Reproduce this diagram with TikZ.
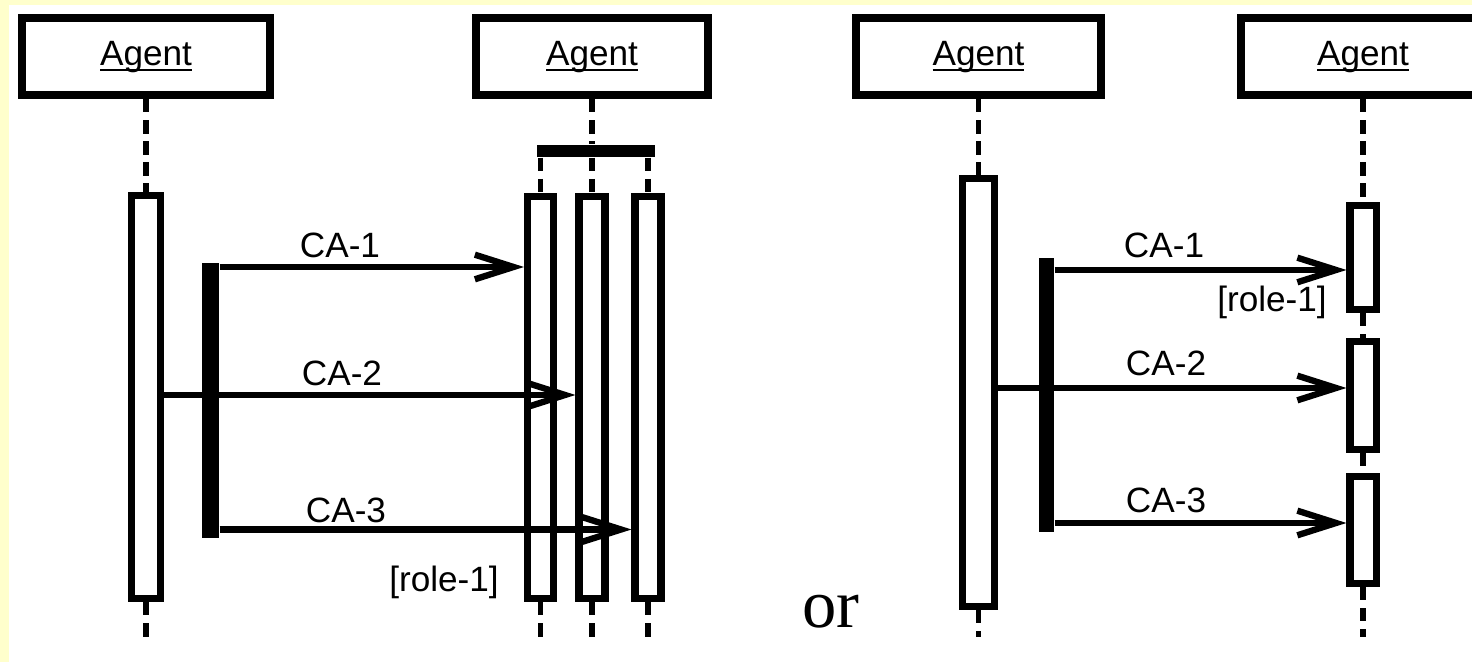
\documentclass[tikz,border=0pt]{standalone}
\usepackage{fontspec}
\setmainfont{Liberation Sans}
\newfontfamily\orfont{Liberation Serif}
\usetikzlibrary{arrows.meta}
\tikzset{agent/.style = {draw, line width = 2.3pt, fill = white, minimum height = 0.77cm,
                         inner sep = 0, font = \fontsize{10}{12}\selectfont}}
\tikzset{actbox/.style = {draw, line width = 2pt, fill = white, minimum width = 0.26cm, inner sep = 0}}
\tikzset{bar/.style = {fill, inner sep = 0}}
\tikzset{life/.style = {line width = 1.6pt, dash pattern = on 3.8pt off 2.2pt}}
\tikzset{msg/.style = {line width = 1.8pt, -{Straight Barb[length = 11pt, width = 7pt]}}}
\tikzset{lbl/.style = {inner sep = 0, font = \fontsize{10}{12}\selectfont}}
\newcommand{\agentname}{\underline{\raisebox{0pt}[\height][0pt]{Agent}}}
\definecolor{bgyellow}{rgb}{1, 1, 0.8}

\begin{document}
\begin{tikzpicture}[x = 0.01cm, y = -0.01cm]
      \clip (0, 0) rectangle (1472, 662);
      \fill [white] (0, 0) rectangle (1472, 662);
      \fill [bgyellow] (0, 0) rectangle (1472, 5);
      \fill [bgyellow] (0, 0) rectangle (9, 662);
      \coordinate (end) at (0, 637);

      \node [agent, minimum width = 2.48cm] (ag1) at (146, 56.5) {\agentname};
      \node [agent, minimum width = 2.32cm] (ag2) at (592, 56.5) {\agentname};
      \node [agent, minimum width = 2.44cm] (ag3) at (978.5, 56.5) {\agentname};
      \node [agent, minimum width = 2.44cm] (ag4) at (1363, 56.5) {\agentname};

      \node [actbox, minimum width = 0.29cm, minimum height = 4.03cm] (act1) at (146, 397) {};
      \node [actbox, minimum height = 4.02cm] (act2a) at (540.5, 397.5) {};
      \node [actbox, minimum height = 4.02cm] (act2b) at (592, 397.5) {};
      \node [actbox, minimum height = 4.02cm] (act2c) at (648, 397.5) {};
      \node [actbox, minimum width = 0.32cm, minimum height = 4.28cm] (act3) at (978.5, 392.5) {};
      \node [actbox, minimum height = 1.04cm] (act4a) at (1363, 257.5) {};
      \node [actbox, minimum height = 1.08cm] (act4b) at (1363, 395.5) {};
      \node [actbox, minimum height = 1.07cm] (act4c) at (1363, 530) {};

      \node [bar, minimum width = 0.17cm, minimum height = 2.75cm] (bar1) at (210.5, 400.5) {};
      \node [bar, minimum width = 0.15cm, minimum height = 2.74cm] (bar2) at (1046.5, 395) {};
      \node [bar, minimum width = 1.18cm, minimum height = 0.12cm] (fork) at (596, 151) {};

      \draw [life] (ag1.south) -- (act1.north);
      \draw [life] (act1.south) -- (act1.south |- end);
      \draw [life] (ag2.south) -- (ag2.south |- fork.north);
      \foreach \a in {act2a, act2b, act2c} {
        \draw [life] (\a.north |- fork.south) -- (\a.north);
        \draw [life] (\a.south) -- (\a.south |- end);
      }
      \draw [life] (ag3.south) -- (act3.north);
      \draw [life] (act3.south) -- (act3.south |- end);
      \draw [life] (ag4.south) -- (act4a.north);
      \draw [life] (act4a.south) -- (act4b.north);
      \draw [life] (act4b.south) -- (act4c.north);
      \draw [life] (act4c.south) -- (act4c.south |- end);

      \coordinate (y1l) at (0, 267);
      \coordinate (y2l) at (0, 395);
      \coordinate (y3l) at (0, 529.5);
      \coordinate (y1r) at (0, 270);
      \coordinate (y2r) at (0, 388);
      \coordinate (y3r) at (0, 523);

      \draw [msg] (bar1.east |- y1l) -- (act2a.west |- y1l);
      \draw [msg] (act1.east |- y2l) -- (act2b.west |- y2l);
      \draw [msg] (bar1.east |- y3l) -- (act2c.west |- y3l);
      \draw [msg] (bar2.east |- y1r) -- (act4a.west |- y1r);
      \draw [msg] (act3.east |- y2r) -- (act4b.west |- y2r);
      \draw [msg] (bar2.east |- y3r) -- (act4c.west |- y3r);

      \node [lbl] (ca1l) at (340, 245) {CA-1};
      \node [lbl] (ca2l) at (342, 373) {CA-2};
      \node [lbl] (ca3l) at (346, 510) {CA-3};
      \node [lbl] (rolel) at (444, 582) {[role-1]};
      \node [lbl] (ca1r) at (1164, 245) {CA-1};
      \node [lbl] (ca2r) at (1166, 363) {CA-2};
      \node [lbl] (ca3r) at (1166, 500) {CA-3};
      \node [lbl] (roler) at (1272, 302) {[role-1]};

      \node [font = \orfont\fontsize{19.5}{20}\selectfont, anchor = base, inner sep = 0] (or) at (831, 628) {or};
    \end{tikzpicture}
\end{document}
